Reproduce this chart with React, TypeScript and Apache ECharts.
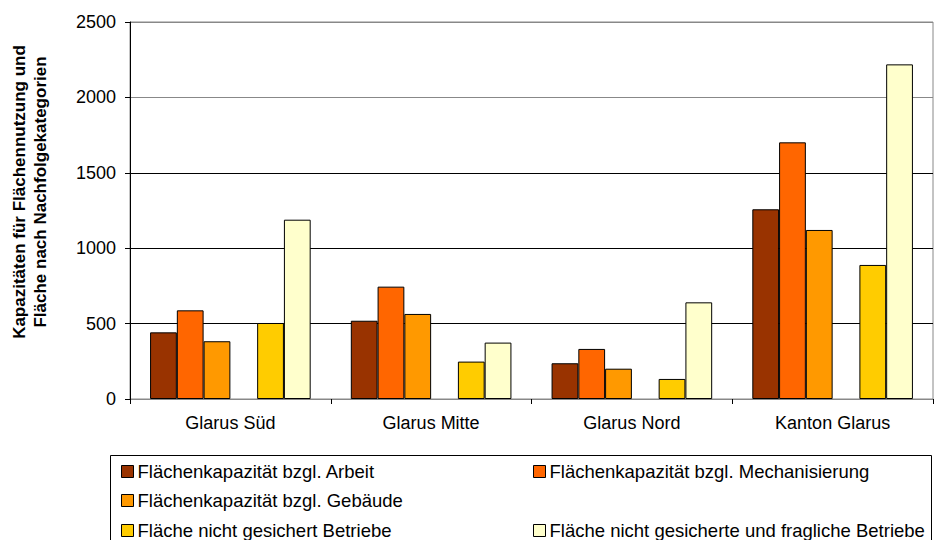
import React, { useEffect, useRef } from "react";
import * as echarts from "echarts";

const categories = ["Glarus Süd", "Glarus Mitte", "Glarus Nord", "Kanton Glarus"];
const seriesNames = [
  "Flächenkapazität bzgl. Arbeit",
  "Flächenkapazität bzgl. Mechanisierung",
  "Flächenkapazität bzgl. Gebäude",
  "",
  "Fläche nicht gesichert Betriebe",
  "Fläche nicht gesicherte und fragliche Betriebe",
];
const arbeit = [442, 519, 237, 1258];
const mechanisierung = [588, 745, 332, 1702];
const gebaeude = [383, 564, 201, 1121];
const leer = [null, null, null, null];
const nichtGesichert = [504, 248, 133, 889];
const fraglich = [1189, 374, 641, 2219];
const seriesValues = [arbeit, mechanisierung, gebaeude, leer, nichtGesichert, fraglich];
const colors = ["#993300", "#FF6600", "#FF9900", "#FFFFFF", "#FFCC00", "#FFFFCC"];
const yAxisTitle = "Kapazitäten für Flächennutzung und\nFläche nach Nachfolgekategorien";

const FONT = "'Liberation Sans', Arial, sans-serif";

// legend slots: [seriesIndex, left, rowCenter]
const legendSlots: [number, number, number][] = [
  [0, 121, 472],
  [1, 533, 472],
  [2, 121, 501],
  [4, 121, 531],
  [5, 533, 531],
];

export default function App() {
  const ref = useRef<HTMLDivElement>(null);
  useEffect(() => {
    if (!ref.current) return;
    const chart = echarts.init(ref.current, undefined, { renderer: "svg" });
    const series = seriesValues.map((vals, i) => ({
      type: "bar",
      name: seriesNames[i] || "leer",
      data: vals,
      barGap: "0%",
      barCategoryGap: "20%",
      itemStyle: { color: colors[i], borderColor: "#000", borderWidth: 1 },
      emphasis: { disabled: true },
    }));
    const legends = legendSlots.map(([si, left, cy]) => ({
      show: true,
      left,
      top: cy - 10,
      padding: 0,
      itemWidth: 12,
      itemHeight: 12,
      itemGap: 0,
      icon: "rect",
      selectedMode: false,
      data: [seriesNames[si]],
      textStyle: { fontFamily: FONT, fontSize: 18.5, color: "#000", padding: [0, 0, 0, -1] },
      itemStyle: { borderColor: "#000", borderWidth: 1 },
    }));
    chart.setOption({
      animation: false,
      backgroundColor: "#fff",
      textStyle: { fontFamily: FONT },
      grid: { left: 130, right: 5, top: 22, bottom: 141, show: true, borderColor: "#888", borderWidth: 1 },
      legend: legends,
      xAxis: {
        type: "category",
        data: categories,
        axisLine: { lineStyle: { color: "#888", width: 1 } },
        axisTick: { show: true, length: 5, lineStyle: { color: "#000" } },
        axisLabel: { fontFamily: FONT, fontSize: 18, color: "#000", margin: 15 },
      },
      yAxis: {
        type: "value",
        min: 0,
        max: 2500,
        interval: 500,
        axisLine: { show: true, lineStyle: { color: "#000", width: 1 } },
        axisTick: { show: true, length: 5, lineStyle: { color: "#000" } },
        axisLabel: {
          fontFamily: FONT,
          fontSize: 18,
          color: "#000",
          margin: 14,
          formatter: (v: number) => String(v),
        },
        splitLine: {
          show: true,
          lineStyle: { color: ["#000", "#000", "#000", "#000", "#888", "#888"], width: 1 },
        },
      },
      graphic: [
        {
          type: "text",
          x: 30,
          y: 192,
          rotation: Math.PI / 2,
          style: {
            text: yAxisTitle,
            fill: "#000",
            font: `bold 17px ${FONT}`,
            align: "center",
            verticalAlign: "middle",
            lineHeight: 21,
          },
        },
        {
          type: "rect",
          shape: { x: 110.5, y: 455.5, width: 821, height: 100 },
          style: { fill: "none", stroke: "#000", lineWidth: 1 },
          silent: true,
        },
      ],
      series,
    });
    return () => chart.dispose();
  }, []);
  return <div ref={ref} style={{ width: 938, height: 540, position: "absolute", left: 0, top: 0 }} />;
}
